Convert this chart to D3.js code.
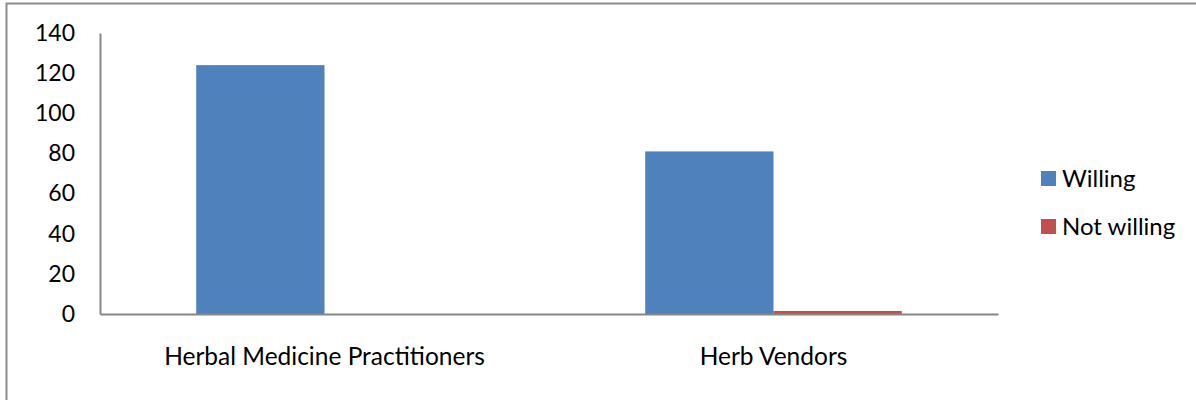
<!DOCTYPE html>
<html lang="en">
<head>
    <meta charset="UTF-8">
    <title>Willingness chart</title>
    <script src="https://d3js.org/d3.v7.min.js"></script>
    <style>
        body { margin: 0; background: #fff; }
        text { font-family: Lato, "Open Sans", sans-serif; fill: #000; }
    </style>
</head>
<body>
    <div id="chart"></div>

    <script>
        // Data
        var categories = ["Herbal Medicine Practitioners", "Herb Vendors"];
        var seriesNames = ["Willing", "Not willing"];
        var willing = [124, 81];
        var notWilling = [0, 1.5];
        var yTicks = [0, 20, 40, 60, 80, 100, 120, 140];
        var colors = ["#4F81BD", "#C0504D"];

        var width = 1196;
        var height = 400;

        var svg = d3.select("#chart")
            .append("svg")
            .attr("width", width)
            .attr("height", height);

        // outer chart border (runs off the right and bottom)
        svg.append("rect")
            .attr("x", 6.5)
            .attr("y", 3.5)
            .attr("width", 1300)
            .attr("height", 500)
            .attr("fill", "none")
            .attr("stroke", "#8c8c8c")
            .attr("stroke-width", 2);

        // plot area
        var plotLeft = 100, plotRight = 998, plotTop = 33, plotBottom = 314;

        var x0 = d3.scaleBand()
            .domain(categories)
            .range([plotLeft, plotRight])
            .paddingInner(0)
            .paddingOuter(0);

        // bars take 2/3.5 of each category band (gap width 150%)
        var groupW = x0.bandwidth() * 2 / 3.5;
        var x1 = d3.scaleBand()
            .domain(seriesNames)
            .range([0, groupW]);

        var y = d3.scaleLinear()
            .domain([0, 140])
            .range([plotBottom, plotTop]);

        var rows = categories.map(function (c, i) {
            return { cat: c, values: [willing[i], notWilling[i]] };
        });

        var groups = svg.append("g")
            .selectAll("g")
            .data(rows)
            .enter()
            .append("g")
            .attr("transform", function (d) {
                return "translate(" + (x0(d.cat) + (x0.bandwidth() - groupW) / 2) + ",0)";
            });

        groups.selectAll("rect")
            .data(function (d) {
                return d.values.map(function (v, j) { return { name: seriesNames[j], value: v, color: colors[j] }; });
            })
            .enter()
            .append("rect")
            .attr("x", function (d) { return x1(d.name); })
            .attr("width", x1.bandwidth())
            .attr("y", function (d) { return y(d.value); })
            .attr("height", function (d) { return y(0) - y(d.value); })
            .attr("fill", function (d) { return d.color; });

        // y axis
        var yAxis = svg.append("g")
            .attr("transform", "translate(" + plotLeft + ",0)")
            .call(d3.axisLeft(y).tickValues(yTicks).tickSize(0).tickPadding(25));
        yAxis.select(".domain").attr("stroke", "#868686").attr("stroke-width", 2);
        yAxis.selectAll("text").style("font-size", "23px");

        // x axis
        var xAxis = svg.append("g")
            .attr("transform", "translate(0," + plotBottom + ")")
            .call(d3.axisBottom(x0).tickSize(0).tickPadding(34));
        xAxis.select(".domain").attr("stroke", "#868686").attr("stroke-width", 2);
        xAxis.selectAll("text").style("font-size", "24.5px");

        // legend
        var legend = svg.append("g")
            .selectAll("g")
            .data(seriesNames)
            .enter()
            .append("g")
            .attr("transform", function (d, i) { return "translate(1041," + (171 + i * 48) + ")"; });

        legend.append("rect")
            .attr("width", 15)
            .attr("height", 15)
            .attr("fill", function (d, i) { return colors[i]; });

        legend.append("text")
            .attr("x", 21)
            .attr("y", 16)
            .style("font-size", "24px")
            .text(function (d) { return d; });
    </script>
</body>
</html>
